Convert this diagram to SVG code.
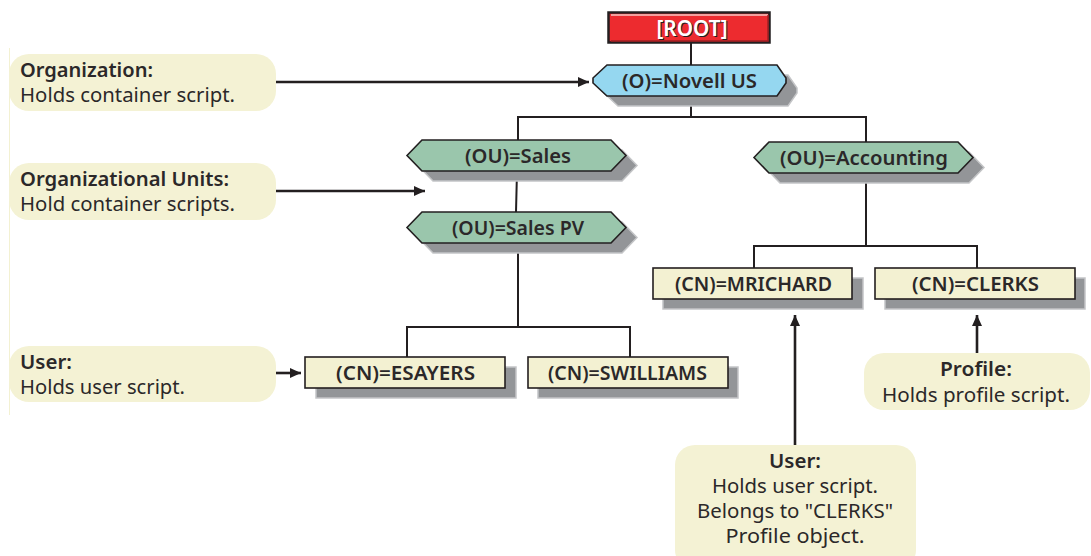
<svg xmlns="http://www.w3.org/2000/svg" width="1091" height="556" viewBox="0 0 1091 556">
<defs>
<marker id="ah" markerUnits="userSpaceOnUse" markerWidth="12" markerHeight="12" refX="11" refY="6" orient="auto"><path d="M0,1 L11,6 L0,11 Z" fill="#231f20"/></marker>
<polygon id="hexg" points="0,15.500 15,0 204,0 219,15.500 204,31 15,31"/>
<polygon id="hexb" points="0,13 14,0 184,0 193,13 193,18 184,31 14,31 0,18"/>
</defs>
<style>
text{font-family:"Noto Sans","Open Sans","DejaVu Sans",sans-serif;fill:#2b2829;font-size:20px}
.b{font-weight:600}
.m{text-anchor:middle}
.s{fill:#939598;stroke:#c4c5c7;stroke-width:1.500}
.o{stroke:#231f20;stroke-width:1.600}
.y{fill:#f3f1d2}
.c{fill:#f4f2d4}
.g{fill:#9ac6ac}
.l{fill:none;stroke:#231f20;stroke-width:2}
.a{fill:none;stroke:#231f20;stroke-width:2.600;marker-end:url(#ah)}
</style>
<rect x="9" y="48" width="1" height="367" fill="#f3f1d2"/>
<g id="connectors">
<path class="l" d="M691,43V65M691,96V117M518,140V117H866V142M517,171L516,212M866,174V246M754,268V246H977V268M518,243V327M407,357V327H630V357"/>
<path class="a" d="M276,82H589"/>
<path class="a" d="M276,191H425"/>
<path class="a" d="M276,373H301"/>
<path class="a" d="M795,445V315"/>
<path class="a" d="M977,353V315"/>
</g>
<g id="root"><rect x="608.500" y="12.500" width="161" height="30" fill="#ed2b2f" stroke="#231f20" stroke-width="2.500"/><path d="M611,15H768" stroke="#f6c9c4" stroke-width="1.500" fill="none"/><path d="M611,41H768V15" stroke="#a02024" stroke-width="1.500" fill="none"/><text x="693" y="37" class="b m" style="fill:#231f20;font-size:21px" textLength="71" lengthAdjust="spacingAndGlyphs">[ROOT]</text><text x="692" y="36" class="b m" style="fill:#fff;font-size:21px" textLength="71" lengthAdjust="spacingAndGlyphs">[ROOT]</text></g>
<g id="novell"><use href="#hexb" x="604" y="75" class="s"/><use href="#hexb" x="593" y="65" fill="#95d7f0" class="o"/><text x="689.500" y="88" class="b m" textLength="135" lengthAdjust="spacingAndGlyphs">(O)=Novell US</text></g>
<g id="sales"><use href="#hexg" x="418" y="150" class="s"/><use href="#hexg" x="407" y="140" class="g o"/><text x="518" y="163" class="b m" textLength="106" lengthAdjust="spacingAndGlyphs">(OU)=Sales</text></g>
<g id="accounting"><use href="#hexg" x="765" y="152" class="s"/><use href="#hexg" x="754" y="142" class="g o"/><text x="864" y="165" class="b m" textLength="168" lengthAdjust="spacingAndGlyphs">(OU)=Accounting</text></g>
<g id="salespv"><use href="#hexg" x="418" y="222" class="s"/><use href="#hexg" x="407" y="212" class="g o"/><text x="518" y="235" class="b m" textLength="132" lengthAdjust="spacingAndGlyphs">(OU)=Sales PV</text></g>
<g id="mrichard"><rect x="663" y="278" width="200" height="31" class="s"/><rect x="653" y="268" width="199" height="31" class="y o"/><text x="753.500" y="291" class="b m" textLength="157" lengthAdjust="spacingAndGlyphs">(CN)=MRICHARD</text></g>
<g id="clerks"><rect x="885" y="278" width="200" height="31" class="s"/><rect x="875" y="268" width="200" height="31" class="y o"/><text x="975.500" y="291" class="b m" textLength="127" lengthAdjust="spacingAndGlyphs">(CN)=CLERKS</text></g>
<g id="esayers"><rect x="316" y="367" width="200" height="31" class="s"/><rect x="305" y="357" width="200" height="31" class="y o"/><text x="405.500" y="380" class="b m" textLength="139" lengthAdjust="spacingAndGlyphs">(CN)=ESAYERS</text></g>
<g id="swilliams"><rect x="538" y="367" width="200" height="31" class="s"/><rect x="528" y="357" width="200" height="31" class="y o"/><text x="627.500" y="380" class="b m" textLength="159" lengthAdjust="spacingAndGlyphs">(CN)=SWILLIAMS</text></g>
<g id="note-org"><rect x="9" y="54" width="267" height="57" rx="20" class="c"/><text x="20" y="76.500" class="b" textLength="133" lengthAdjust="spacingAndGlyphs">Organization:</text><text x="20" y="102" textLength="215" lengthAdjust="spacingAndGlyphs">Holds container script.</text></g>
<g id="note-ou"><rect x="9" y="163" width="267" height="57" rx="20" class="c"/><text x="20" y="186" class="b" textLength="209" lengthAdjust="spacingAndGlyphs">Organizational Units:</text><text x="20" y="211" textLength="215" lengthAdjust="spacingAndGlyphs">Hold container scripts.</text></g>
<g id="note-user"><rect x="9" y="346" width="267" height="56" rx="20" class="c"/><text x="20" y="368.500" class="b" textLength="52" lengthAdjust="spacingAndGlyphs">User:</text><text x="20" y="393.500" textLength="165" lengthAdjust="spacingAndGlyphs">Holds user script.</text></g>
<g id="note-profile"><rect x="864" y="353" width="226" height="57" rx="20" class="c"/><text x="976" y="376" class="b m" textLength="72" lengthAdjust="spacingAndGlyphs">Profile:</text><text x="976" y="402" class="m" textLength="188" lengthAdjust="spacingAndGlyphs">Holds profile script.</text></g>
<g id="note-user2"><rect x="675" y="445" width="241" height="125" rx="20" class="c"/><text x="795" y="467.500" class="b m" textLength="52" lengthAdjust="spacingAndGlyphs">User:</text><text x="795" y="492.500" class="m" textLength="166" lengthAdjust="spacingAndGlyphs">Holds user script.</text><text x="795" y="518" class="m" textLength="196" lengthAdjust="spacingAndGlyphs">Belongs to "CLERKS"</text><text x="795" y="543" class="m" textLength="139" lengthAdjust="spacingAndGlyphs">Profile object.</text></g>
</svg>
